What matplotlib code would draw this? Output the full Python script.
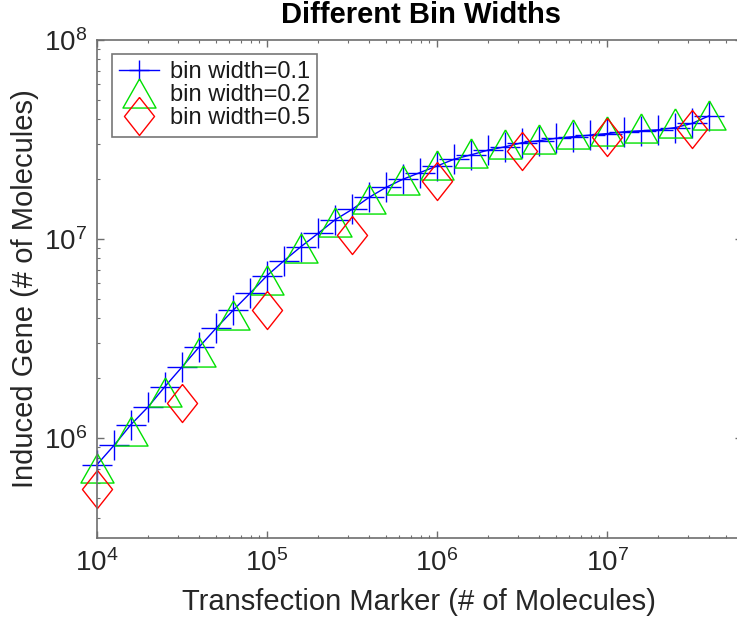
import matplotlib
matplotlib.use("Agg")
import matplotlib.pyplot as plt
from matplotlib.ticker import LogLocator, NullFormatter

plt.rcParams['font.family'] = ['Liberation Sans', 'DejaVu Sans']
plt.rcParams['mathtext.fontset'] = 'custom'
plt.rcParams['mathtext.rm'] = 'Liberation Sans'
plt.rcParams['mathtext.it'] = 'Liberation Sans:italic'
plt.rcParams['mathtext.bf'] = 'Liberation Sans:bold'

# ---------------- data ----------------
title = "Different Bin Widths"
xlabel = "Transfection Marker (# of Molecules)"
ylabel = "Induced Gene (# of Molecules)"
labels = ["bin width=0.1", "bin width=0.2", "bin width=0.5"]

x_bw01 = [1.00e4, 1.26e4, 1.58e4, 2.00e4, 2.51e4, 3.16e4, 3.98e4, 5.01e4, 6.31e4, 7.94e4,
          1.00e5, 1.26e5, 1.58e5, 2.00e5, 2.51e5, 3.16e5, 3.98e5, 5.01e5, 6.31e5, 7.94e5,
          1.00e6, 1.26e6, 1.58e6, 2.00e6, 2.51e6, 3.16e6, 3.98e6, 5.01e6, 6.31e6, 7.94e6,
          1.00e7, 1.26e7, 1.58e7, 2.00e7, 2.51e7, 3.16e7, 3.98e7]
y_bw01 = [7.38e5, 9.23e5, 1.17e6, 1.44e6, 1.82e6, 2.28e6, 2.87e6, 3.57e6, 4.39e6, 5.35e6,
          6.56e6, 7.80e6, 9.16e6, 1.07e7, 1.25e7, 1.41e7, 1.62e7, 1.82e7, 2.00e7, 2.16e7,
          2.33e7, 2.52e7, 2.65e7, 2.80e7, 2.91e7, 3.05e7, 3.12e7, 3.21e7, 3.27e7, 3.33e7,
          3.39e7, 3.46e7, 3.50e7, 3.54e7, 3.63e7, 3.81e7, 4.16e7]

x_bw02 = [1.00e4, 1.58e4, 2.51e4, 3.98e4, 6.31e4,
          1.00e5, 1.58e5, 2.51e5, 3.98e5, 6.31e5,
          1.00e6, 1.58e6, 2.51e6, 3.98e6, 6.31e6,
          1.00e7, 1.58e7, 2.51e7, 3.98e7]
y_bw02 = [7.11e5, 1.09e6, 1.70e6, 2.71e6, 4.15e6,
          6.22e6, 9.04e6, 1.22e7, 1.60e7, 1.99e7,
          2.36e7, 2.72e7, 3.00e7, 3.20e7, 3.39e7,
          3.51e7, 3.63e7, 3.82e7, 4.18e7]

x_bw05 = [1.00e4, 3.16e4, 1.00e5, 3.16e5, 1.00e6, 3.16e6, 1.00e7, 3.16e7]
y_bw05 = [5.60e5, 1.51e6, 4.39e6, 1.05e7, 1.96e7, 2.78e7, 3.24e7, 3.56e7]

xlim = (1e4, 6.22e7)
ylim = (3.16e5, 1e8)

# ---------------- figure ----------------
W, H = 737, 624
fig = plt.figure(figsize=(W / 100, H / 100), dpi=100)
left, right, top, bottom = 97, 742, 40, 538
ax = fig.add_axes([left / W, (H - bottom) / H, (right - left) / W, (bottom - top) / H])

tri = [(0, 0.88), (-1, -0.88), (1, -0.88), (0, 0.88)]
dia = [(0, 1), (0.79, 0), (0, -1), (-0.79, 0), (0, 1)]

ax.plot(x_bw01, y_bw01, color='#0000ff', lw=1.0, marker='+', ms=21.6, mew=1.0,
        label=labels[0], clip_on=False)
ax.plot(x_bw02, y_bw02, ls='none', marker=tri, ms=23.8, mew=1.0, mfc='none',
        mec='#00e000', label=labels[1], clip_on=False)
ax.plot(x_bw05, y_bw05, ls='none', marker=dia, ms=27.4, mew=1.0, mfc='none',
        mec='#ff0000', label=labels[2], clip_on=False)

ax.set_xscale('log')
ax.set_yscale('log')
ax.set_xlim(*xlim)
ax.set_ylim(*ylim)

for axis in (ax.xaxis, ax.yaxis):
    axis.set_major_locator(LogLocator(base=10, numticks=20))
    axis.set_minor_locator(LogLocator(base=10, subs=range(2, 10), numticks=50))
    axis.set_minor_formatter(NullFormatter())

spine_col = '#6e6e6e'
for s in ax.spines.values():
    s.set_color(spine_col)
    s.set_linewidth(1.2)

ax.tick_params(which='both', direction='in', top=True, right=True, color=spine_col,
               labelcolor='#262626', labelsize=20)
ax.tick_params(which='major', length=5, width=1.0)
ax.tick_params(which='minor', length=2.5, width=0.8)
ax.tick_params(axis='x', which='major', pad=8)
ax.tick_params(axis='y', which='major', pad=7)

ax.set_xlabel(xlabel, fontsize=21, color='#262626')
ax.set_ylabel(ylabel, fontsize=21, color='#262626')
ax.xaxis.set_label_coords((419 - left) / (right - left), -0.10)
ax.yaxis.set_label_coords(-0.09, 0.5)

ax.text((421 - left) / (right - left), 1.034, title, transform=ax.transAxes,
        ha='center', va='baseline', fontsize=21, fontweight='bold', color='black')

leg = ax.legend(loc='upper left', bbox_to_anchor=((112 - left) / (right - left),
                                                  (bottom - 54) / (bottom - top)),
                borderaxespad=0, borderpad=0.3, labelspacing=0.05, handlelength=1.7,
                handletextpad=0.45, fontsize=17, fancybox=False, framealpha=1,
                edgecolor='#777777')
leg.get_frame().set_linewidth(1.2)
for t in leg.get_texts():
    t.set_color('#1a1a1a')
leg.legend_handles[0].set_markersize(15)

fig.savefig('out.png', dpi=100)
